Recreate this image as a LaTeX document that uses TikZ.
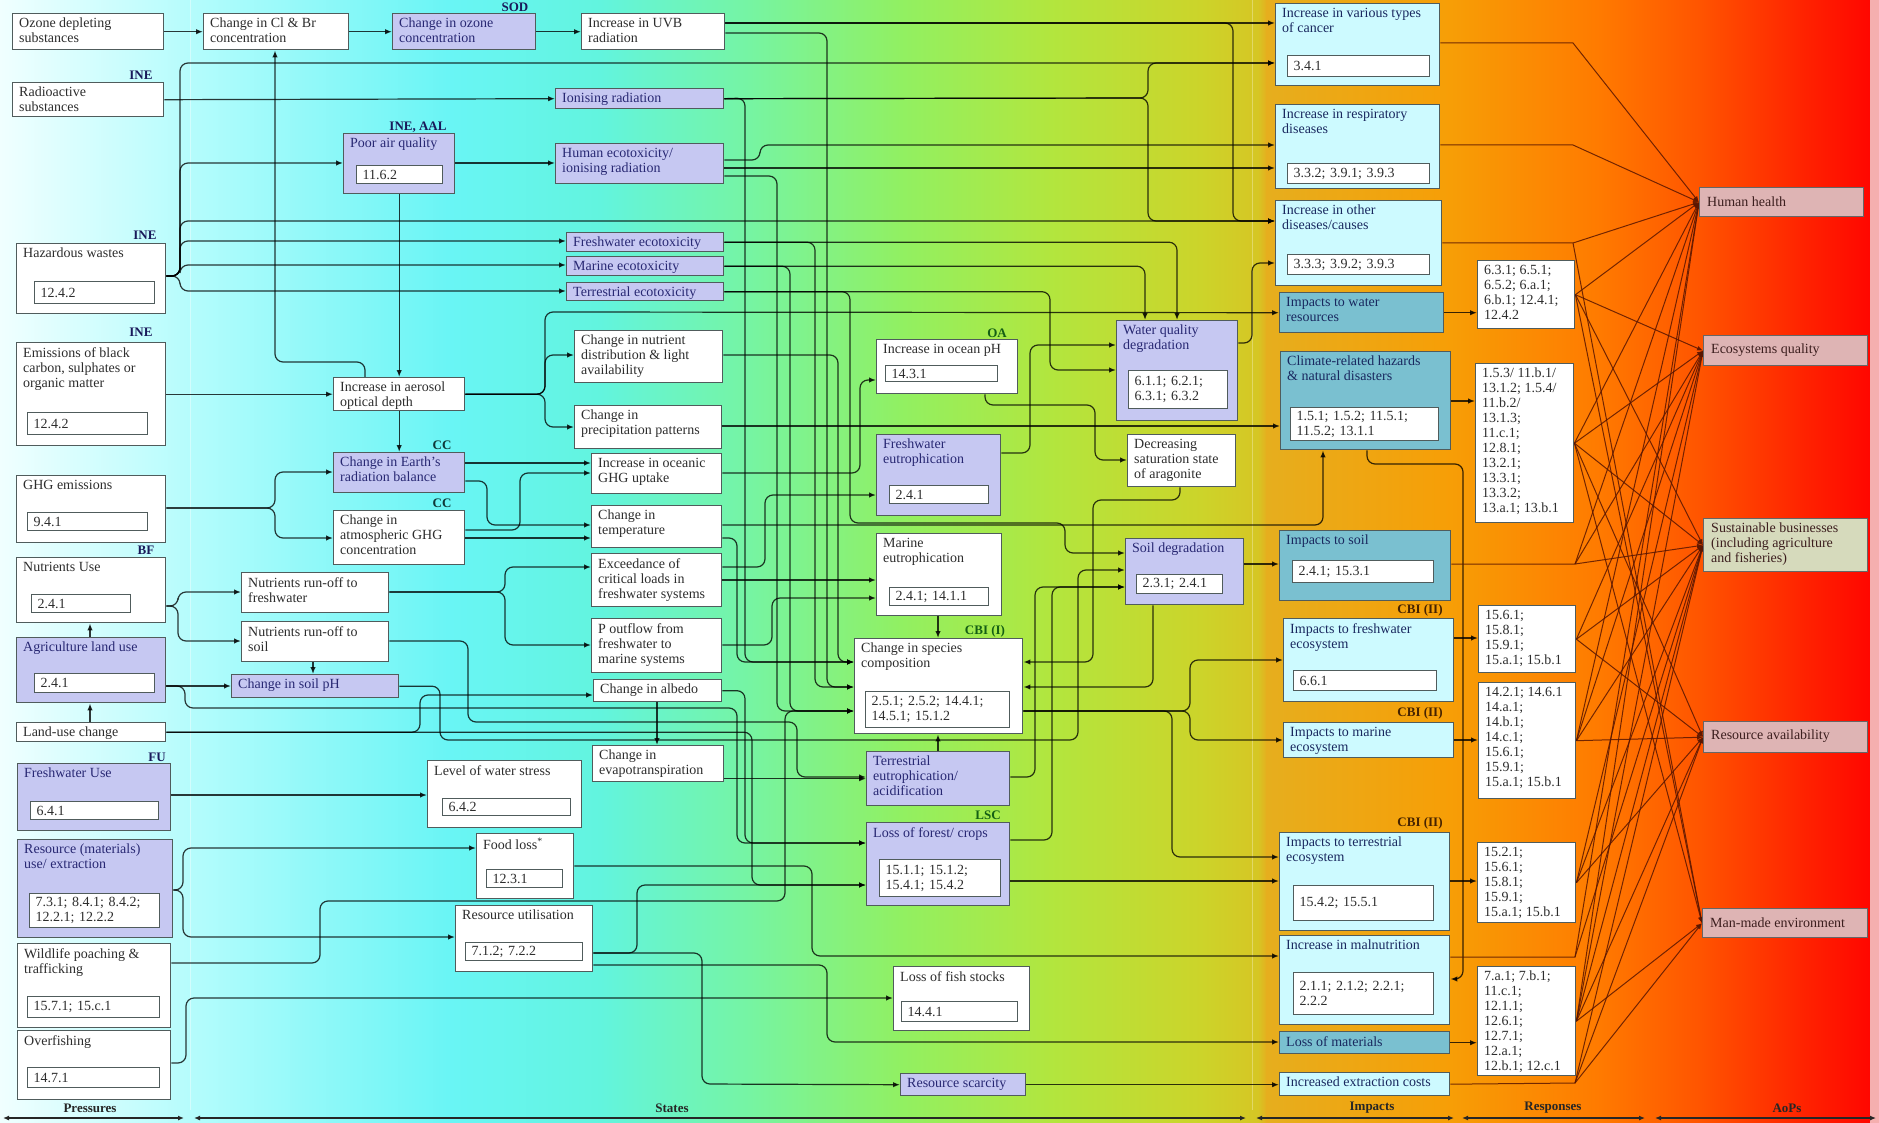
\documentclass[tikz,border=0pt]{standalone}
\usepackage{fontspec}
\setmainfont{Liberation Serif}
\usetikzlibrary{arrows.meta}
\pgfdeclarelayer{bg}
\pgfdeclarelayer{lines}
\pgfsetlayers{bg,lines,main}
\definecolor{bd}{RGB}{80,92,92}
\definecolor{lav}{RGB}{198,200,242}
\definecolor{lcy}{RGB}{205,250,255}
\definecolor{stl}{RGB}{122,192,208}
\definecolor{pnk}{RGB}{222,180,180}
\definecolor{bge}{RGB}{214,218,188}
\definecolor{tx}{RGB}{45,45,45}
\definecolor{tlav}{RGB}{40,40,115}
\definecolor{tcy}{RGB}{25,40,95}
\definecolor{tpk}{RGB}{60,30,30}
\definecolor{tagb}{RGB}{25,25,90}
\definecolor{tagc}{RGB}{15,55,55}
\definecolor{tagg}{RGB}{20,95,20}
\definecolor{tagr}{RGB}{70,35,0}
\definecolor{fanc}{RGB}{90,22,0}
\definecolor{g0}{RGB}{240,255,255}
\definecolor{g1}{RGB}{178,252,252}
\definecolor{g2}{RGB}{105,245,245}
\definecolor{g3}{RGB}{98,244,222}
\definecolor{g4}{RGB}{118,244,162}
\definecolor{g5}{RGB}{145,240,98}
\definecolor{g6}{RGB}{178,230,62}
\definecolor{g7}{RGB}{204,212,42}
\definecolor{g8}{RGB}{214,198,36}
\definecolor{g9}{RGB}{230,174,30}
\definecolor{g10}{RGB}{247,158,6}
\definecolor{g11}{RGB}{255,122,0}
\definecolor{g12}{RGB}{255,84,0}
\definecolor{g13}{RGB}{255,36,0}
\definecolor{g14}{RGB}{255,6,0}
\definecolor{strip}{RGB}{245,175,175}
\newcommand\mkbox[7]{%
  \pgfmathsetmacro\mybw{#4-#2}\pgfmathsetmacro\mybh{#5-#3}%
  \node[#6, anchor=north west, minimum width=\mybw pt, minimum height=\mybh pt] (#1) at (#2,#3) {};
  \node[txt, #6t, anchor=north west] (#1-t) at (#2+7,#3+5) {#7};}
\newcommand\mkboxc[7]{%
  \pgfmathsetmacro\mybw{#4-#2}\pgfmathsetmacro\mybh{#5-#3}\pgfmathsetmacro\mycy{(#3+#5)/2}%
  \node[#6, anchor=north west, minimum width=\mybw pt, minimum height=\mybh pt] (#1) at (#2,#3) {};
  \node[txt, #6t, anchor=west] (#1-t) at (#2+8,\mycy) {#7};}
\newcommand\mkin[6]{%
  \pgfmathsetmacro\mybw{#4-#2}\pgfmathsetmacro\mybh{#5-#3}\pgfmathsetmacro\mytw{#4-#2-12}%
  \node[inbox, anchor=north west, minimum width=\mybw pt, minimum height=\mybh pt, text width=\mytw pt] (#1) at (#2,#3) {#6};}
\begin{document}
\begin{tikzpicture}[x=1pt,y=-1pt,
  mybox/.style={draw=bd, line width=1.4pt, inner sep=0pt},
  wb/.style={mybox, fill=white}, wbt/.style={text=tx},
  lb/.style={mybox, fill=lav}, lbt/.style={text=tlav},
  cb/.style={mybox, fill=lcy}, cbt/.style={text=tcy},
  stb/.style={mybox, fill=stl}, stbt/.style={text=tcy},
  pkb/.style={mybox, draw=black!60, fill=pnk}, pkbt/.style={text=tpk},
  bgb/.style={mybox, draw=black!60, fill=bge}, bgbt/.style={text=tpk},
  txt/.style={font=\fontsize{14}{15}\selectfont, align=left, inner sep=0pt},
  inbox/.style={draw=bd, line width=1.1pt, fill=white, inner xsep=6pt, inner ysep=0pt, align=left, font=\fontsize{14}{15}\selectfont, text=tx},
  tag/.style={font=\bfseries\fontsize{13}{13}\selectfont, inner sep=0pt},
  conn/.style={draw=black, opacity=0.78, line width=1.2pt, rounded corners=8pt},
  arr/.style={conn, -{Latex[length=7pt,width=5.5pt]}},
  fan/.style={draw=fanc, opacity=0.85, line width=1pt, -{Latex[length=6pt,width=5pt]}},
  axis/.style={draw=black!85, line width=1.2pt, {Latex[length=6pt,width=5pt]}-{Latex[length=6pt,width=5pt]}},
  seclab/.style={font=\bfseries\fontsize{13}{13}\selectfont, text=black!85, inner sep=0pt}]
\useasboundingbox (0,0) rectangle (1879,1123);
\begin{pgfonlayer}{bg}
\shade[left color=g0,right color=g1] (0,0) rectangle (201,1123);
\shade[left color=g1,right color=g2] (200,0) rectangle (451,1123);
\shade[left color=g2,right color=g3] (450,0) rectangle (601,1123);
\shade[left color=g3,right color=g4] (600,0) rectangle (751,1123);
\shade[left color=g4,right color=g5] (750,0) rectangle (901,1123);
\shade[left color=g5,right color=g6] (900,0) rectangle (1051,1123);
\shade[left color=g6,right color=g7] (1050,0) rectangle (1201,1123);
\shade[left color=g7,right color=g8] (1200,0) rectangle (1259,1123);
\shade[left color=g8,right color=g9] (1258,0) rectangle (1267,1123);
\shade[left color=g9,right color=g10] (1266,0) rectangle (1451,1123);
\shade[left color=g10,right color=g11] (1450,0) rectangle (1601,1123);
\shade[left color=g11,right color=g12] (1600,0) rectangle (1701,1123);
\shade[left color=g12,right color=g13] (1700,0) rectangle (1801,1123);
\shade[left color=g13,right color=g14] (1800,0) rectangle (1871,1123);
\fill[strip] (1870,0) rectangle (1879,1123);
\draw[white, opacity=0.4, line width=1pt] (190,0) -- (190,1110);
\draw[white, opacity=0.3, line width=1pt] (1252,0) -- (1252,1110);
\end{pgfonlayer}

% ---------- Pressures
\mkbox{ozd}{12}{13}{163}{49}{wb}{Ozone depleting\\substances}
\mkbox{rad}{12}{82}{163}{116}{wb}{Radioactive\\substances}
\mkbox{haz}{16}{243}{165}{313}{wb}{Hazardous wastes}
\mkin{haz-in}{34}{281}{154}{303}{12.4.2}
\mkbox{emi}{16}{342}{165}{445}{wb}{Emissions of black\\carbon, sulphates or\\organic matter}
\mkin{emi-in}{27}{412}{147}{434}{12.4.2}
\mkbox{ghg}{16}{475}{165}{542}{wb}{GHG emissions}
\mkin{ghg-in}{27}{512}{147}{530}{9.4.1}
\mkbox{nut}{16}{557}{165}{622}{wb}{Nutrients Use}
\mkin{nut-in}{31}{594}{130}{612}{2.4.1}
\mkbox{agr}{16}{637}{165}{702}{lb}{Agriculture land use}
\mkin{agr-in}{34}{673}{154}{692}{2.4.1}
\mkbox{luc}{16}{722}{165}{741}{wb}{Land-use change}
\mkbox{fwu}{17}{763}{170}{830}{lb}{Freshwater Use}
\mkin{fwu-in}{30}{801}{158}{819}{6.4.1}
\mkbox{res}{17}{839}{172}{937}{lb}{Resource (materials)\\use/ extraction}
\mkin{res-in}{29}{893}{159}{927}{7.3.1; 8.4.1; 8.4.2;\\12.2.1; 12.2.2}
\mkbox{wil}{17}{943}{170}{1027}{wb}{Wildlife poaching \&\\trafficking}
\mkin{wil-in}{27}{996}{159}{1017}{15.7.1; 15.c.1}
\mkbox{ovf}{17}{1030}{170}{1099}{wb}{Overfishing}
\mkin{ovf-in}{27}{1067}{159}{1087}{14.7.1}

% ---------- States
\mkbox{clbr}{203}{13}{348}{49}{wb}{Change in Cl \& Br\\concentration}
\mkbox{ozc}{392}{13}{535}{49}{lb}{Change in ozone\\concentration}
\mkbox{uvb}{581}{13}{724}{49}{wb}{Increase in UVB\\radiation}
\mkbox{poor}{343}{133}{454}{193}{lb}{Poor air quality}
\mkin{poor-in}{356}{165}{442}{183}{11.6.2}
\mkbox{ion}{555}{88}{723}{108}{lb}{Ionising radiation}
\mkbox{hec}{555}{143}{723}{183}{lb}{Human ecotoxicity/\\ionising radiation}
\mkbox{fec}{566}{232}{723}{251}{lb}{Freshwater ecotoxicity}
\mkbox{mec}{566}{256}{723}{275}{lb}{Marine ecotoxicity}
\mkbox{tec}{566}{282}{723}{300}{lb}{Terrestrial ecotoxicity}
\mkbox{ndl}{574}{330}{722}{382}{wb}{Change in nutrient\\distribution \& light\\availability}
\mkbox{aer}{333}{377}{464}{410}{wb}{Increase in aerosol\\optical depth}
\mkbox{erb}{333}{452}{464}{492}{lb}{Change in Earth's\\radiation balance}
\mkbox{agh}{333}{510}{464}{564}{wb}{Change in\\atmospheric GHG\\concentration}
\mkbox{rfw}{241}{572}{388}{612}{wb}{Nutrients run-off to\\freshwater}
\mkbox{rso}{241}{621}{388}{661}{wb}{Nutrients run-off to\\soil}
\mkbox{sph}{231}{674}{398}{697}{lb}{Change in soil pH}
\mkbox{ppt}{574}{405}{721}{448}{wb}{Change in\\precipitation patterns}
\mkbox{ogu}{591}{453}{721}{493}{wb}{Increase in oceanic\\GHG uptake}
\mkbox{tmp}{591}{505}{721}{547}{wb}{Change in\\temperature}
\mkbox{exc}{591}{553}{721}{606}{wb}{Exceedance of\\critical loads in\\freshwater systems}
\mkbox{pou}{591}{618}{721}{672}{wb}{P outflow from\\freshwater to\\marine systems}
\mkbox{alb}{593}{679}{721}{701}{wb}{Change in albedo}
\mkbox{evt}{592}{745}{723}{781}{wb}{Change in\\evapotranspiration}
\mkbox{lws}{427}{760}{581}{827}{wb}{Level of water stress}
\mkin{lws-in}{442}{798}{570}{815}{6.4.2}
\mkbox{fdl}{476}{833}{573}{898}{wb}{Food loss\textsuperscript{*}}
\mkin{fdl-in}{486}{869}{562}{887}{12.3.1}
\mkbox{rut}{455}{905}{592}{971}{wb}{Resource utilisation}
\mkin{rut-in}{465}{942}{582}{960}{7.1.2; 7.2.2}
\mkbox{opH}{876}{339}{1017}{393}{wb}{Increase in ocean pH}
\mkin{opH-in}{885}{365}{997}{381}{14.3.1}
\mkbox{few}{876}{434}{1000}{515}{lb}{Freshwater\\eutrophication}
\mkin{few-in}{889}{485}{988}{503}{2.4.1}
\mkbox{mae}{876}{533}{1001}{615}{wb}{Marine\\eutrophication}
\mkin{mae-in}{889}{587}{988}{605}{2.4.1; 14.1.1}
\mkbox{spc}{854}{638}{1022}{733}{wb}{Change in species\\composition}
\mkin{spc-in}{865}{691}{1009}{727}{2.5.1; 2.5.2; 14.4.1;\\14.5.1; 15.1.2}
\mkbox{ter}{866}{751}{1009}{805}{lb}{Terrestrial\\eutrophication/\\acidification}
\mkbox{lof}{866}{822}{1009}{905}{lb}{Loss of forest/ crops}
\mkin{lof-in}{879}{859}{1000}{896}{15.1.1; 15.1.2;\\15.4.1; 15.4.2}
\mkbox{lfs}{893}{966}{1029}{1030}{wb}{Loss of fish stocks}
\mkin{lfs-in}{901}{1001}{1017}{1021}{14.4.1}
\mkbox{rsc}{900}{1073}{1025}{1095}{lb}{Resource scarcity}
\mkbox{wqd}{1116}{320}{1237}{420}{lb}{Water quality\\degradation}
\mkin{wqd-in}{1128}{370}{1227}{408}{6.1.1; 6.2.1;\\6.3.1; 6.3.2}
\mkbox{ara}{1127}{434}{1235}{486}{wb}{Decreasing\\saturation state\\of aragonite}
\mkbox{sdg}{1125}{538}{1243}{604}{lb}{Soil degradation}
\mkin{sdg-in}{1136}{574}{1222}{593}{2.3.1; 2.4.1}

% ---------- Impacts
\mkbox{can}{1275}{3}{1439}{85}{cb}{Increase in various types\\of cancer}
\mkin{can-in}{1287}{55}{1429}{76}{3.4.1}
\mkbox{rsp}{1275}{104}{1439}{188}{cb}{Increase in respiratory\\diseases}
\mkin{rsp-in}{1287}{163}{1429}{183}{3.3.2; 3.9.1; 3.9.3}
\mkbox{oth}{1275}{200}{1441}{285}{cb}{Increase in other\\diseases/causes}
\mkin{oth-in}{1287}{254}{1429}{274}{3.3.3; 3.9.2; 3.9.3}
\mkbox{iwr}{1279}{292}{1443}{332}{stb}{Impacts to water\\resources}
\mkbox{clh}{1280}{351}{1450}{449}{stb}{Climate-related hazards\\\& natural disasters}
\mkin{clh-in}{1290}{407}{1438}{440}{1.5.1; 1.5.2; 11.5.1;\\11.5.2; 13.1.1}
\mkbox{iso}{1279}{530}{1450}{600}{stb}{Impacts to soil}
\mkin{iso-in}{1292}{560}{1433}{582}{2.4.1; 15.3.1}
\mkbox{ife}{1283}{618}{1453}{701}{cb}{Impacts to freshwater\\ecosystem}
\mkin{ife-in}{1293}{670}{1436}{690}{6.6.1}
\mkbox{ima}{1283}{722}{1453}{757}{cb}{Impacts to marine\\ecosystem}
\mkbox{ite}{1279}{832}{1449}{930}{cb}{Impacts to terrestrial\\ecosystem}
\mkin{ite-in}{1293}{885}{1433}{920}{15.4.2; 15.5.1}
\mkbox{mal}{1279}{935}{1449}{1024}{cb}{Increase in malnutrition}
\mkin{mal-in}{1293}{972}{1433}{1014}{2.1.1; 2.1.2; 2.2.1;\\2.2.2}
\mkbox{lom}{1279}{1031}{1449}{1053}{stb}{Loss of materials}
\mkbox{iec}{1279}{1072}{1449}{1095}{cb}{Increased extraction costs}

% ---------- Responses
\mkbox{r1}{1477}{260}{1574}{328}{wb}{6.3.1; 6.5.1;\\6.5.2; 6.a.1;\\6.b.1; 12.4.1;\\12.4.2}
\mkbox{r2}{1475}{363}{1573}{522}{wb}{1.5.3/ 11.b.1/\\13.1.2; 1.5.4/\\11.b.2/\\13.1.3;\\11.c.1;\\12.8.1;\\13.2.1;\\13.3.1;\\13.3.2;\\13.a.1; 13.b.1}
\mkbox{r3}{1478}{605}{1575}{672}{wb}{15.6.1;\\15.8.1;\\15.9.1;\\15.a.1; 15.b.1}
\mkbox{r4}{1478}{682}{1575}{798}{wb}{14.2.1; 14.6.1\\14.a.1;\\14.b.1;\\14.c.1;\\15.6.1;\\15.9.1;\\15.a.1; 15.b.1}
\mkbox{r5}{1477}{842}{1575}{922}{wb}{15.2.1;\\15.6.1;\\15.8.1;\\15.9.1;\\15.a.1; 15.b.1}
\mkbox{r6}{1477}{966}{1575}{1075}{wb}{7.a.1; 7.b.1;\\11.c.1;\\12.1.1;\\12.6.1;\\12.7.1;\\12.a.1;\\12.b.1; 12.c.1}

% ---------- AoPs
\mkboxc{hh}{1699}{187}{1863}{216}{pkb}{Human health}
\mkboxc{eq}{1703}{335}{1867}{365}{pkb}{Ecosystems quality}
\mkboxc{sus}{1703}{518}{1867}{571}{bgb}{Sustainable businesses\\(including agriculture\\and fisheries)}
\mkboxc{ra}{1703}{721}{1867}{752}{pkb}{Resource availability}
\mkboxc{mme}{1702}{908}{1867}{937}{pkb}{Man-made environment}

% ---------- tags
\node[tag, text=tagb] (t-rad) at (141,75) {INE};
\node[tag, text=tagb] (t-haz) at (145,235) {INE};
\node[tag, text=tagb] (t-emi) at (141,332) {INE};
\node[tag, text=tagb] (t-nut) at (146,550) {BF};
\node[tag, text=tagb] (t-fwu) at (157,757) {FU};
\node[tag, text=tagb] (t-ozc) at (515,7) {SOD};
\node[tag, text=tagb] (t-poor) at (418,127) {INE, AAL};
\node[tag, text=tagc] (t-erb) at (442,445) {CC};
\node[tag, text=tagc] (t-agh) at (442,503) {CC};
\node[tag, text=tagg] (t-oph) at (997,333) {OA};
\node[tag, text=tagg] (t-spc) at (985,631) {CBI (I)};
\node[tag, text=tagg] (t-lof) at (988,815) {LSC};
\node[tag, text=tagr] (t-ife) at (1420,610) {CBI (II)};
\node[tag, text=tagr] (t-ima) at (1420,713) {CBI (II)};
\node[tag, text=tagr] (t-ite) at (1420,823) {CBI (II)};

% ---------- section axis
\coordinate (ax0) at (3,1118);   \coordinate (ax1) at (184,1118);
\coordinate (ax2) at (194,1118); \coordinate (ax3) at (1246,1118);
\coordinate (ax4) at (1256,1118);\coordinate (ax5) at (1454,1118);
\coordinate (ax6) at (1462,1118);\coordinate (ax7) at (1645,1118);
\coordinate (ax8) at (1655,1118);\coordinate (ax9) at (1876,1118);
\draw[axis] (ax0) -- (ax1);
\draw[axis] (ax2) -- (ax3);
\draw[axis] (ax4) -- (ax5);
\draw[axis] (ax6) -- (ax7);
\draw[axis] (ax8) -- (ax9);
\node[seclab] (s-pre) at (90,1108) {Pressures};
\node[seclab] (s-sta) at (672,1108) {States};
\node[seclab] (s-imp) at (1372,1108) {Impacts};
\node[seclab] (s-res) at (1553,1108) {Responses};
\node[seclab] (s-aop) at (1787,1108) {AoPs};

% ---------- fan coordinates
\coordinate (fcan) at (1573,43);
\coordinate (frsp) at (1573,145);
\coordinate (foth) at (1573,243);
\coordinate (fiso) at (1575,564);
\coordinate (fmal) at (1575,957);
\coordinate (fiec) at (1575,1083);

\begin{pgfonlayer}{lines}
% top chain
\draw[arr] (ozd.east) -- (clbr.west);
\draw[arr] (clbr.east) -- (ozc.west);
\draw[arr] (ozc.east) -- (uvb.west);
\draw[arr] (uvb.east|-0,23) -- (can.west|-0,23);
\draw[arr] (uvb.east|-0,33) -- (827,33) -- (827,687) -- (spc.west|-0,687);
\draw[arr] (uvb.east|-0,23) -- (1233,23) -- (1233,221) -- (oth.west|-0,221);
\draw[arr] (rad.east) -- (ion.west);
% hazardous wastes bus
\draw[arr] (haz.east|-0,276) -- (180,276) -- (180,63) -- (can.west|-0,63);
\draw[arr] (haz.east|-0,276) -- (180,276) -- (180,163) -- (poor.west|-0,163);
\draw[arr] (haz.east|-0,276) -- (180,276) -- (180,221) -- (oth.west|-0,221);
\draw[arr] (haz.east|-0,276) -- (180,276) -- (180,241) -- (fec.west|-0,241);
\draw[arr] (haz.east|-0,276) -- (180,276) -- (180,265) -- (mec.west|-0,265);
\draw[arr] (haz.east|-0,276) -- (180,276) -- (180,291) -- (tec.west|-0,291);
% ionising
\draw[arr] (ion.east) -- (1148,98) -- (1148,63) -- (can.west|-0,63);
\draw[arr] (ion.east) -- (1148,98) -- (1148,221) -- (oth.west|-0,221);
\draw[arr] (ion.east) -- (745,98) -- (745,662) -- (spc.west|-0,662);
% poor air, human ecotox
\draw[arr] (poor.east|-0,163) -- (hec.west|-0,163);
\draw[arr] (poor.south) -- (poor.south|-aer.north);
\draw[arr] (hec.east|-0,160) -- (760,160) -- (760,145) -- (rsp.west|-0,145);
\draw[arr] (hec.east|-0,168) -- (rsp.west|-0,168);
\draw[arr] (hec.east|-0,176) -- (777,176) -- (777,711) -- (spc.west|-0,711);
% ecotoxicities
\draw[arr] (fec.east) -- (fec.east-|1177,0) -- (wqd.north-|1177,0);
\draw[arr] (fec.east) -- (fec.east-|815,0) -- (815,687) -- (spc.west|-0,687);
\draw[arr] (mec.east) -- (mec.east-|1145,0) -- (wqd.north-|1145,0);
\draw[arr] (mec.east) -- (mec.east-|790,0) -- (790,711) -- (spc.west|-0,711);
\draw[arr] (tec.east) -- (tec.east-|1050,0) -- (1050,370) -- (wqd.west|-0,370);
\draw[arr] (tec.east) -- (tec.east-|850,0) -- (850,523) -- (1065,523) -- (1065,553) -- (sdg.west|-0,553);
% nutrient distribution, aerosol
\draw[arr] (ndl.east|-0,355) -- (838,355) -- (838,662) -- (spc.west|-0,662);
\draw[arr] (aer.east) -- (aer.east-|545,0) -- (545,355) -- (ndl.west|-0,355);
\draw[arr] (aer.east) -- (aer.east-|545,0) -- (545,427) -- (ppt.west|-0,427);
\draw[arr] (aer.east) -- (aer.east-|545,0) -- (545,312) -- (iwr.west);
\draw[arr] (aer.south) -- (erb.north);
\draw[arr] (emi.east|-aer.west) -- (aer.west);
\draw[arr] (aer.north-|365,0) -- (365,362) -- (275,362) -- (clbr.south-|275,0);
% GHG
\draw[arr] (ghg.east|-0,508) -- (275,508) -- (275,472) -- (erb.west|-0,472);
\draw[arr] (ghg.east|-0,508) -- (275,508) -- (275,538) -- (agh.west|-0,538);
\draw[arr] (erb.east|-0,463) -- (ogu.west|-0,463);
\draw[arr] (erb.east|-0,481) -- (487,481) -- (487,525) -- (tmp.west|-0,525);
\draw[arr] (agh.east|-0,530) -- (520,530) -- (520,473) -- (ogu.west|-0,473);
\draw[arr] (agh.east|-0,538) -- (tmp.west|-0,538);
% temperature, precipitation, ocean uptake
\draw[arr] (tmp.east|-0,525) -- (1323,525) -- (clh.south-|1323,0);
\draw[arr] (tmp.east|-0,538) -- (737,538) -- (737,662) -- (spc.west|-0,662);
\draw[arr] (ppt.east|-0,426) -- (clh.west|-0,426);
\draw[arr] (ogu.east|-0,473) -- (860,473) -- (860,380) -- (opH.west|-0,380);
% nutrients
\draw[arr] (nut.east|-0,606) -- (178,606) -- (178,592) -- (rfw.west|-0,592);
\draw[arr] (nut.east|-0,606) -- (178,606) -- (178,641) -- (rso.west|-0,641);
\draw[arr] (rso.south-|313,0) -- (sph.north-|313,0);
\draw[arr] (agr.north-|90,0) -- (nut.south-|90,0);
\draw[arr] (luc.north-|90,0) -- (agr.south-|90,0);
\draw[arr] (agr.east|-0,686) -- (sph.west|-0,686);
\draw[arr] (agr.east|-0,686) -- (185,686) -- (185,708) -- (737,708) -- (737,843) -- (lof.west|-0,843);
\draw[arr] (rfw.east|-0,592) -- (505,592) -- (505,567) -- (exc.west|-0,567);
\draw[arr] (rfw.east|-0,592) -- (505,592) -- (505,645) -- (pou.west|-0,645);
\draw[arr] (rso.east|-0,641) -- (468,641) -- (468,722) -- (797,722) -- (797,777) -- (ter.west|-0,777);
\draw[arr] (sph.east) -- (sph.east-|440,0) -- (440,740) -- (1078,740) -- (1078,570) -- (sdg.west|-0,570);
\draw[arr] (luc.east) -- (luc.east-|420,0) -- (420,695) -- (alb.west|-0,695);
\draw[arr] (luc.east) -- (luc.east-|752,0) -- (752,885) -- (lof.west|-0,885);
\draw[arr] (alb.east) -- (alb.east-|745,0) -- (745,843) -- (lof.west|-0,843);
\draw[arr] (alb.south-|657,0) -- (evt.north-|657,0);
\draw[arr] (evt.east|-ter.west) -- (ter.west);
% exceedance, P outflow
\draw[arr] (exc.east|-0,567) -- (765,567) -- (765,495) -- (few.west|-0,495);
\draw[arr] (exc.east|-0,580) -- (mae.west|-0,580);
\draw[arr] (pou.east|-0,645) -- (772,645) -- (772,598) -- (mae.west|-0,598);
% eutrophication, ocean pH, aragonite, soil
\draw[arr] (few.east|-0,453) -- (1030,453) -- (1030,345) -- (wqd.west|-0,345);
\draw[arr] (mae.south-|938,0) -- (spc.north-|938,0);
\draw[arr] (ter.north-|938,0) -- (spc.south-|938,0);
\draw[arr] (opH.south-|985,0) -- (985,405) -- (1095,405) -- (1095,460) -- (ara.west|-0,460);
\draw[arr] (ara.south-|1180,0) -- (1180,500) -- (1093,500) -- (1093,662) -- (spc.east|-0,662);
\draw[arr] (sdg.south-|1153,0) -- (1153,687) -- (spc.east|-0,687);
\draw[arr] (sdg.east|-0,564) -- (iso.west|-0,564);
\draw[arr] (lof.east|-0,840) -- (1052,840) -- (1052,587) -- (sdg.west|-0,587);
\draw[arr] (ter.east|-0,777) -- (1035,777) -- (1035,587) -- (sdg.west|-0,587);
\draw[arr] (wqd.east|-0,343) -- (1252,343) -- (1252,263) -- (oth.west|-0,263);
\draw[arr] (spc.east|-0,711) -- (1190,711) -- (1190,660) -- (ife.west|-0,660);
\draw[arr] (spc.east|-0,711) -- (1190,711) -- (1190,740) -- (ima.west|-0,740);
\draw[arr] (spc.east|-0,711) -- (1172,711) -- (1172,857) -- (ite.west|-0,857);
\draw[arr] (lof.east|-0,881) -- (ite.west|-0,881);
% lower pressures
\draw[arr] (fwu.east|-0,795) -- (lws.west|-0,795);
\draw[arr] (res.east|-0,890) -- (183,890) -- (183,848) -- (fdl.west|-0,848);
\draw[arr] (res.east|-0,890) -- (183,890) -- (183,937) -- (rut.west|-0,937);
\draw[arr] (wil.east|-0,963) -- (320,963) -- (320,901) -- (785,901) -- (785,711) -- (spc.west|-0,711);
\draw[arr] (ovf.east|-0,1063) -- (186,1063) -- (186,998) -- (lfs.west|-0,998);
\draw[arr] (fdl.east|-0,866) -- (812,866) -- (812,956) -- (mal.west|-0,956);
\draw[arr] (rut.east|-0,953) -- (637,953) -- (637,885) -- (lof.west|-0,885);
\draw[arr] (rut.east|-0,953) -- (702,953) -- (702,1084) -- (rsc.west);
\draw[arr] (rut.east|-0,965) -- (827,965) -- (827,1042) -- (lom.west|-0,1042);
\draw[arr] (rsc.east) -- (rsc.east-|iec.west);
% impacts to responses
\draw[arr] (iwr.east) -- (iwr.east-|r1.west);
\draw[arr] (clh.east|-0,401) -- (r2.west|-0,401);
\draw[arr] (ife.east|-0,638) -- (r3.west|-0,638);
\draw[arr] (ima.east|-0,740) -- (r4.west|-0,740);
\draw[arr] (ite.east|-0,881) -- (r5.west|-0,881);
\draw[arr] (lom.east) -- (lom.east-|r6.west);
\draw[arr] (clh.south-|1367,0) -- (1367,464) -- (1463,464) -- (1463,979) -- (mal.east|-0,979);
% fan to AoPs
\draw[fan] (can.east|-0,43) -- (fcan) -- (hh.west);
\draw[fan] (rsp.east|-0,145) -- (frsp) -- (hh.west);
\draw[fan] (oth.east|-0,243) -- (foth) -- (hh.west);
\draw[fan] (foth) -- (mme.west);
\draw[fan] (r1.east) -- (hh.west);
\draw[fan] (r1.east) -- (eq.west);
\draw[fan] (r1.east) -- (sus.west);
\draw[fan] (r1.east) -- (mme.west);
\draw[fan] (r2.east) -- (hh.west);
\draw[fan] (r2.east) -- (eq.west);
\draw[fan] (r2.east) -- (sus.west);
\draw[fan] (r2.east) -- (ra.west);
\draw[fan] (r2.east) -- (mme.west);
\draw[fan] (iso.east|-0,564) -- (fiso) -- (sus.west);
\draw[fan] (fiso) -- (eq.west);
\draw[fan] (fiso) -- (hh.west);
\draw[fan] (r3.east) -- (eq.west);
\draw[fan] (r3.east) -- (sus.west);
\draw[fan] (r3.east) -- (ra.west);
\draw[fan] (r4.east) -- (eq.west);
\draw[fan] (r4.east) -- (sus.west);
\draw[fan] (r4.east) -- (ra.west);
\draw[fan] (r4.east) -- (hh.west);
\draw[fan] (r5.east) -- (eq.west);
\draw[fan] (r5.east) -- (sus.west);
\draw[fan] (r5.east) -- (ra.west);
\draw[fan] (mal.east|-0,957) -- (fmal) -- (hh.west);
\draw[fan] (fmal) -- (sus.west);
\draw[fan] (r6.east) -- (sus.west);
\draw[fan] (r6.east) -- (ra.west);
\draw[fan] (r6.east) -- (mme.west);
\draw[fan] (r6.east) -- (eq.west);
\draw[fan] (r6.east) -- (hh.west);
\draw[fan] (iec.east) -- (fiec) -- (ra.west);
\draw[fan] (fiec) -- (mme.west);
\draw[fan] (fiec) -- (sus.west);
\end{pgfonlayer}
\end{tikzpicture}
\end{document}
